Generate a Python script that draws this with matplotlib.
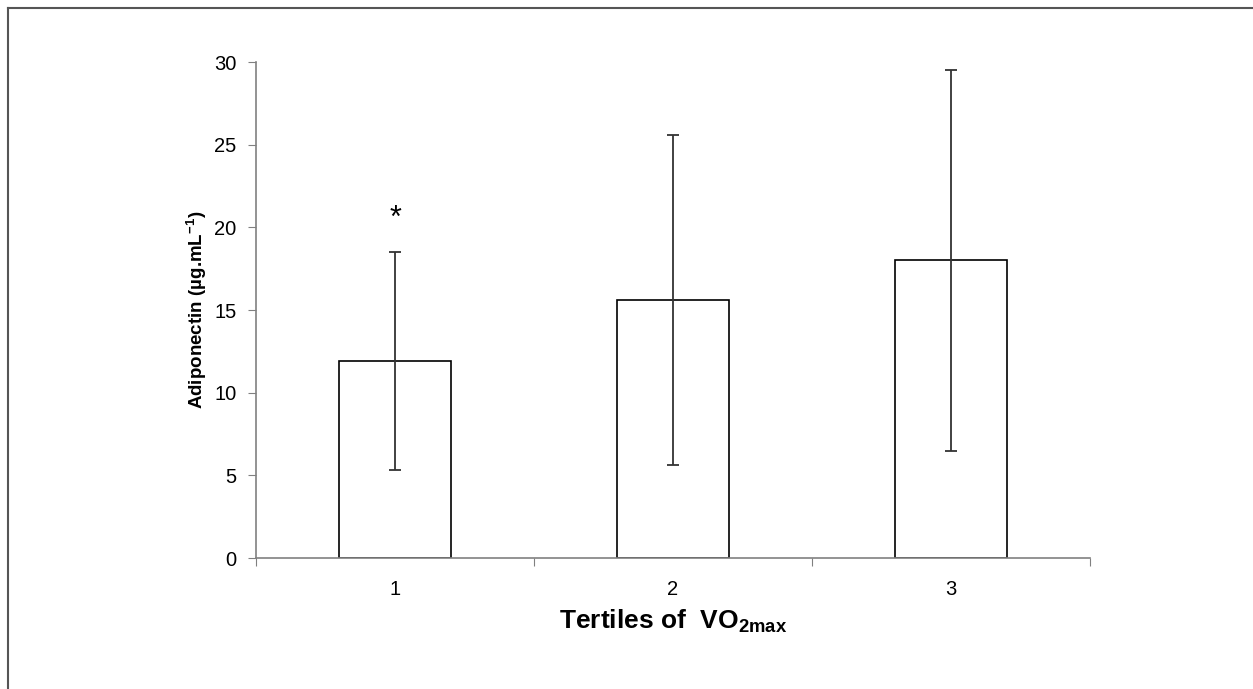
import matplotlib
matplotlib.use("Agg")
import matplotlib.pyplot as plt
from matplotlib.lines import Line2D

plt.rcParams['font.family'] = ['Liberation Sans', 'DejaVu Sans']
plt.rcParams['mathtext.fontset'] = 'custom'
plt.rcParams['mathtext.rm'] = 'Liberation Sans'
plt.rcParams['mathtext.bf'] = 'Liberation Sans:bold'
plt.rcParams['mathtext.it'] = 'Liberation Sans:italic'

tertiles = [1, 2, 3]
tick_labels = ["1", "2", "3"]
adiponectin = [11.9, 15.6, 18.0]
sd = [6.6, 10.0, 11.5]
star_tertile = 1
star_y = 20.5

W, H = 1253, 689
fig = plt.figure(figsize=(W / 100, H / 100), dpi=100)
ax = fig.add_axes([256 / W, 1 - 558 / H, (1090 - 256) / W, (558 - 62) / H])

ax.bar(tertiles, adiponectin, width=0.4, color="white", edgecolor="black", linewidth=1.2, zorder=2)
ax.errorbar(tertiles, adiponectin, yerr=sd, fmt="none", ecolor="#333333",
            elinewidth=1.3, capsize=4.5, capthick=1.3, zorder=3)
ax.text(star_tertile, star_y, "*", ha="center", va="center", fontsize=22)

ax.set_xlim(0.5, 3.5)
ax.set_ylim(0, 30)
ax.set_yticks([0, 5, 10, 15, 20, 25, 30])
ax.set_xticks([0.5, 1.5, 2.5, 3.5])
ax.set_xticklabels([])
ax.set_xticks(tertiles, minor=True)
ax.set_xticklabels(tick_labels, minor=True)
ax.tick_params(axis="x", which="minor", length=0, pad=16, labelsize=14.5)
ax.tick_params(axis="x", which="major", length=6, direction="out", color="#808080")
ax.tick_params(axis="y", length=6, direction="out", color="#808080", labelsize=14.5, pad=8)

for s in ["top", "right"]:
    ax.spines[s].set_visible(False)
for s in ["left", "bottom"]:
    ax.spines[s].set_color("#808080")
    ax.spines[s].set_linewidth(1.2)

ax.set_ylabel("Adiponectin (µg.mL$^{\\mathbf{-1}}$)", fontsize=13.5, fontweight="bold", labelpad=4)
ax.set_xlabel("Tertiles of  VO$_{\\mathbf{2max}}$", fontsize=19, fontweight="bold", labelpad=6)

# outer frame (top and left edges)
fig.add_artist(Line2D([8 / W, 8 / W], [0, 1 - 8 / H], color="#555555", linewidth=1.5))
fig.add_artist(Line2D([8 / W, 1], [1 - 8 / H, 1 - 8 / H], color="#555555", linewidth=1.5))

fig.savefig("out.png", dpi=100, facecolor="white")
